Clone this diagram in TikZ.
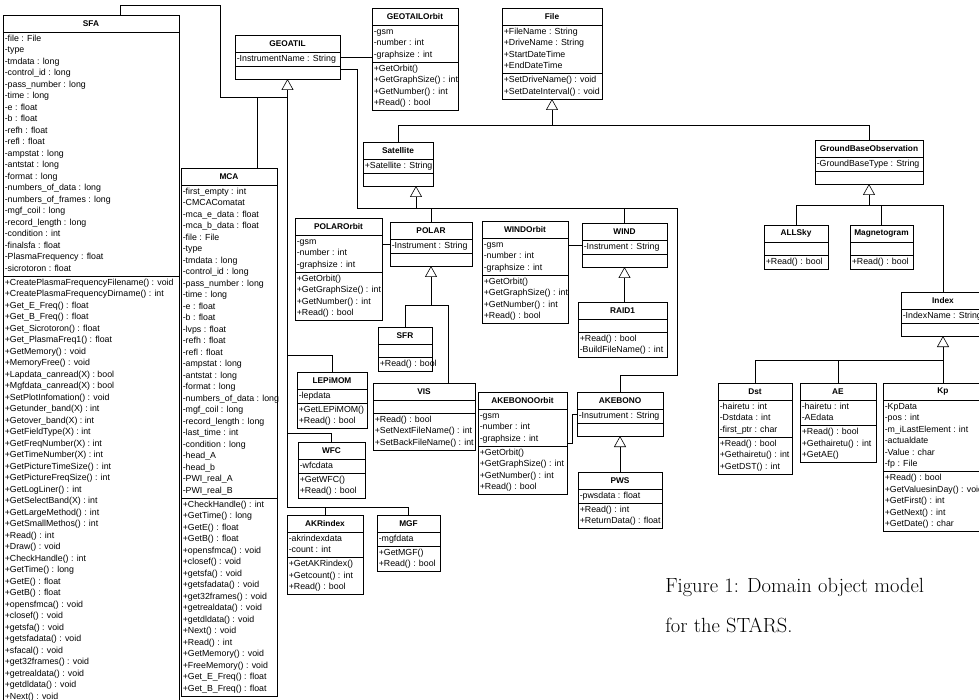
\documentclass[tikz,border=0pt]{standalone}
\usepackage{fontspec}
\newfontfamily\umlfont{Liberation Sans}
\usepackage{tikz}
\usetikzlibrary{arrows.meta}
\newcommand{\rowh}{11.5}
\newcommand{\titleh}{17}
\tikzstyle{classbox}=[draw, fill=white, rectangle, anchor=north west, inner sep=0, outer sep=0]
\tikzstyle{classtitle}=[inner sep=0, font=\umlfont\bfseries\fontsize{8.3}{10}\selectfont]
\tikzstyle{member}=[anchor=west, inner sep=0, text height=6.5pt, text depth=2pt, font=\umlfont\fontsize{8.8}{10}\selectfont]
\tikzstyle{inherit}=[-{Triangle[open, length=11pt, width=12pt]}]
\tikzstyle{caption}=[anchor=north west, inner sep=0, align=left, font=\fontsize{20.5}{40}\selectfont]
\tikzstyle{umldiagram}=[x=1pt, y=-1pt, line width=0.6pt]
% class box: name, top left, width, no. of attributes, no. of methods, attributes, methods
\newcommand{\umlclass}[7]{%
  \pgfmathsetmacro{\atth}{#4==0 ? 13 : #4*\rowh+2.5}%
  \pgfmathsetmacro{\meth}{#5==0 ? 13 : #5*\rowh+2.5}%
  \pgfmathsetmacro{\boxh}{\titleh+\atth+\meth}%
  \pgfmathsetmacro{\sepb}{\titleh+\atth}%
  \node[classbox, minimum width=#3pt, minimum height=\boxh pt] (#1) at (#2) {};
  \node[classtitle] (#1-title) at ([yshift=-8.5pt]#1.north) {#1};
  \draw ([yshift=-\titleh pt]#1.north west) -- ([yshift=-\titleh pt]#1.north east);
  \draw ([yshift=-\sepb pt]#1.north west) -- ([yshift=-\sepb pt]#1.north east);
  \ifnum#4>0
    \foreach \txt [count=\k] in {#6}
      \node[member] (#1-a\k) at ([xshift=1.5pt, yshift={-(\titleh+1.25+(\k-0.5)*\rowh)*1pt}]#1.north west) {\txt};
  \fi
  \ifnum#5>0
    \foreach \txt [count=\k] in {#7}
      \node[member] (#1-m\k) at ([xshift=1.5pt, yshift={-(\sepb+1.25+(\k-0.5)*\rowh)*1pt}]#1.north west) {\txt};
  \fi
}

\begin{document}
\begin{tikzpicture}[umldiagram]
  \clip (0,0) rectangle (979,700);
  \fill[white] (0,0) rectangle (979,700);

  \umlclass{SFA}{3,15}{176}{21}{37}%
    {-file : File, -type, -tmdata : long, -control\_id : long, -pass\_number : long, -time : long, -e : float, -b : float, -refh : float, -refl : float, -ampstat : long, -antstat : long, -format : long, -numbers\_of\_data : long, -numbers\_of\_frames : long, -mgf\_coil : long, -record\_length : long, -condition : int, -finalsfa : float, -PlasmaFrequency : float, -sicrotoron : float}%
    {+CreatePlasmaFrequencyFilename() : void, +CreatePlasmaFrequencyDirname() : int, +Get\_E\_Freq() : float, +Get\_B\_Freq() : float, +Get\_Sicrotoron() : float, +Get\_PlasmaFreq1() : float, +GetMemory() : void, +MemoryFree() : void, +Lapdata\_canread(X) : bool, +Mgfdata\_canread(X) : bool, +SetPlotInfomation() : void, +Getunder\_band(X) : int, +Getover\_band(X) : int, +GetFieldType(X) : int, +GetFreqNumber(X) : int, +GetTimeNumber(X) : int, +GetPictureTimeSize() : int, +GetPictureFreqSize() : int, +GetLogLiner() : int, +GetSelectBand(X) : int, +GetLargeMethod() : int, +GetSmallMethos() : int, +Read() : int, +Draw() : void, +CheckHandle() : int, +GetTime() : long, +GetE() : float, +GetB() : float, +opensfmca() : void, +closef() : void, +getsfa() : void, +getsfadata() : void, +sfacal() : void, +get32frames() : void, +getrealdata() : void, +getdldata() : void, +Next() : void}
  \umlclass{MCA}{181,168}{96}{27}{17}%
    {-first\_empty : int, -CMCAComatat, -mca\_e\_data : float, -mca\_b\_data : float, -file : File, -type, -tmdata : long, -control\_id : long, -pass\_number : long, -time : long, -e : float, -b : float, -lvps : float, -refh : float, -refl : float, -ampstat : long, -antstat : long, -format : long, -numbers\_of\_data : long, -mgf\_coil : long, -record\_length : long, -last\_time : int, -condition : long, -head\_A, -head\_b, -PWI\_real\_A, -PWI\_real\_B}%
    {+CheckHandle() : int, +GetTime() : long, +GetE() : float, +GetB() : float, +opensfmca() : void, +closef() : void, +getsfa() : void, +getsfadata() : void, +get32frames() : void, +getrealdata() : void, +getdldata() : void, +Next() : void, +Read() : int, +GetMemory() : void, +FreeMemory() : void, +Get\_E\_Freq() : float, +Get\_B\_Freq() : float}
  \umlclass{GEOATIL}{235,35}{105}{1}{0}{-InstrumentName : String}{}
  \umlclass{GEOTAILOrbit}{372,8}{86}{3}{4}{-gsm, -number : int, -graphsize : int}{+GetOrbit(), +GetGraphSize() : int, +GetNumber() : int, +Read() : bool}
  \umlclass{File}{502,8}{100}{4}{2}{+FileName : String, +DriveName : String, +StartDateTime, +EndDateTime}{+SetDriveName() : void, +SetDateInterval() : void}
  \umlclass{Satellite}{363,142}{70}{1}{0}{+Satellite : String}{}
  \umlclass{POLAROrbit}{295,218}{87}{3}{4}{-gsm, -number : int, -graphsize : int}{+GetOrbit(), +GetGraphSize() : int, +GetNumber() : int, +Read() : bool}
  \umlclass{POLAR}{390,222}{82}{1}{0}{-Instrument : String}{}
  \umlclass{WINDOrbit}{482,221}{86}{3}{4}{-gsm, -number : int, -graphsize : int}{+GetOrbit(), +GetGraphSize() : int, +GetNumber() : int, +Read() : bool}
  \umlclass{WIND}{582,223}{85}{1}{0}{-Instrument : String}{}
  \umlclass{RAID1}{578,302}{89}{0}{2}{}{+Read() : bool, -BuildFileName() : int}
  \umlclass{SFR}{378,327}{54}{0}{1}{}{+Read() : bool}
  \umlclass{LEPiMOM}{297,372}{70}{1}{2}{-lepdata}{+GetLEPiMOM(), +Read() : bool}
  \umlclass{VIS}{373,383}{102}{0}{3}{}{+Read() : bool, +SetNextFileName() : int, +SetBackFileName() : int}
  \umlclass{AKEBONOOrbit}{478,392}{89}{3}{4}{-gsm, -number : int, -graphsize : int}{+GetOrbit(), +GetGraphSize() : int, +GetNumber() : int, +Read() : bool}
  \umlclass{AKEBONO}{577,392}{86}{1}{0}{-Insutrument : String}{}
  \umlclass{PWS}{578,472}{84}{1}{2}{-pwsdata : float}{+Read() : int, +ReturnData() : float}
  \umlclass{WFC}{298,442}{67}{1}{2}{-wfcdata}{+GetWFC(), +Read() : bool}
  \umlclass{AKRindex}{287,515}{76}{2}{3}{-akrindexdata, -count : int}{+GetAKRindex(), +Getcount() : int, +Read() : bool}
  \umlclass{MGF}{377,515}{63}{1}{2}{-mgfdata}{+GetMGF(), +Read() : bool}
  \umlclass{GroundBaseObservation}{815,140}{108}{1}{0}{-GroundBaseType : String}{}
  \umlclass{ALLSky}{764,225}{64}{0}{1}{}{+Read() : bool}
  \umlclass{Magnetogram}{850,225}{63}{0}{1}{}{+Read() : bool}
  \umlclass{Index}{901,292}{84}{1}{0}{-IndexName : String}{}
  \umlclass{Dst}{718,383}{74}{3}{3}{-hairetu : int, -Dstdata : int, -first\_ptr : char}{+Read() : bool, +Gethairetu() : int, +GetDST() : int}
  \umlclass{AE}{800,383}{76}{2}{3}{-hairetu : int, -AEdata}{+Read() : bool, +Gethairetu() : int, +GetAE()}
  \umlclass{Kp}{883,383}{120}{6}{5}{-KpData, -pos : int, -m\_iLastElement : int, -actualdate, -Value : char, -fp : File}{+Read() : bool, +GetValuesinDay() : void, +GetFirst() : int, +GetNext() : int, +GetDate() : char}

  % GEOATIL and its instruments
  \coordinate (geo-j) at ([yshift=-18pt]GEOATIL.south);
  \draw[inherit] (geo-j) -- (GEOATIL.south);
  \draw ([xshift=29pt]SFA.north) |- ++(100,-10) |- (geo-j);
  \draw ([xshift=28pt]MCA.north) |- (geo-j);
  \draw (geo-j) |- ([yshift=17pt]LEPiMOM.north) -- (LEPiMOM.north);
  \draw (geo-j) |- ([yshift=9pt]WFC.north) -- (WFC.north);
  \draw (geo-j) |- ([yshift=8pt]MGF.north) -- (MGF.north);
  \draw ([yshift=8pt]AKRindex.north) -- (AKRindex.north);

  % File
  \coordinate (file-j) at ([yshift=-26pt]File.south);
  \draw[inherit] (file-j) -- (File.south);
  \draw (Satellite.north) |- (file-j);
  \draw (GroundBaseObservation.north) |- (file-j);

  % Satellite
  \coordinate (sat-j) at ([xshift=18pt, yshift=-22pt]Satellite.south);
  \draw[inherit] (sat-j) -- ([xshift=18pt]Satellite.south);
  \draw ([yshift=-12pt]GEOATIL.east) -- ++(17,0) |- (sat-j);
  \draw (POLAR.north) |- (sat-j);
  \draw (WIND.north) |- (sat-j);
  \draw (AKEBONO.north) |- ++(57,-17) |- (sat-j);

  % POLAR, WIND, AKEBONO
  \coordinate (polar-j) at ([yshift=-39pt]POLAR.south);
  \draw[inherit] (polar-j) -- (POLAR.south);
  \draw (SFR.north) |- (polar-j);
  \draw ([xshift=24pt]VIS.north) |- (polar-j);
  \draw[inherit] (RAID1.north -| WIND.south) -- (WIND.south);
  \draw[inherit] (PWS.north -| AKEBONO.south) -- (AKEBONO.south);

  % ground base
  \coordinate (gbo-j) at ([yshift=-21pt]GroundBaseObservation.south);
  \draw[inherit] (gbo-j) -- (GroundBaseObservation.south);
  \draw (ALLSky.north) |- (gbo-j);
  \draw (Magnetogram.north) |- (gbo-j);
  \draw (Index.north) |- (gbo-j);
  \coordinate (index-j) at ([yshift=-24pt]Index.south);
  \draw[inherit] (index-j) -- (Index.south);
  \draw (Dst.north) |- (index-j);
  \draw (AE.north) |- (index-j);
  \draw (Kp.north) |- (index-j);

  % orbits
  \draw (GEOATIL.east) -- (GEOATIL.east -| GEOTAILOrbit.west);
  \draw (POLAROrbit.east |- POLAR.west) -- (POLAR.west);
  \draw (WINDOrbit.east |- WIND.west) -- (WIND.west);
  \draw (AKEBONOOrbit.east) -- ++(5,0) |- (AKEBONO.west);

  \node[caption] (caption) at (665,578) {Figure 1: Domain object model\\for the STARS.};
\end{tikzpicture}
\end{document}
